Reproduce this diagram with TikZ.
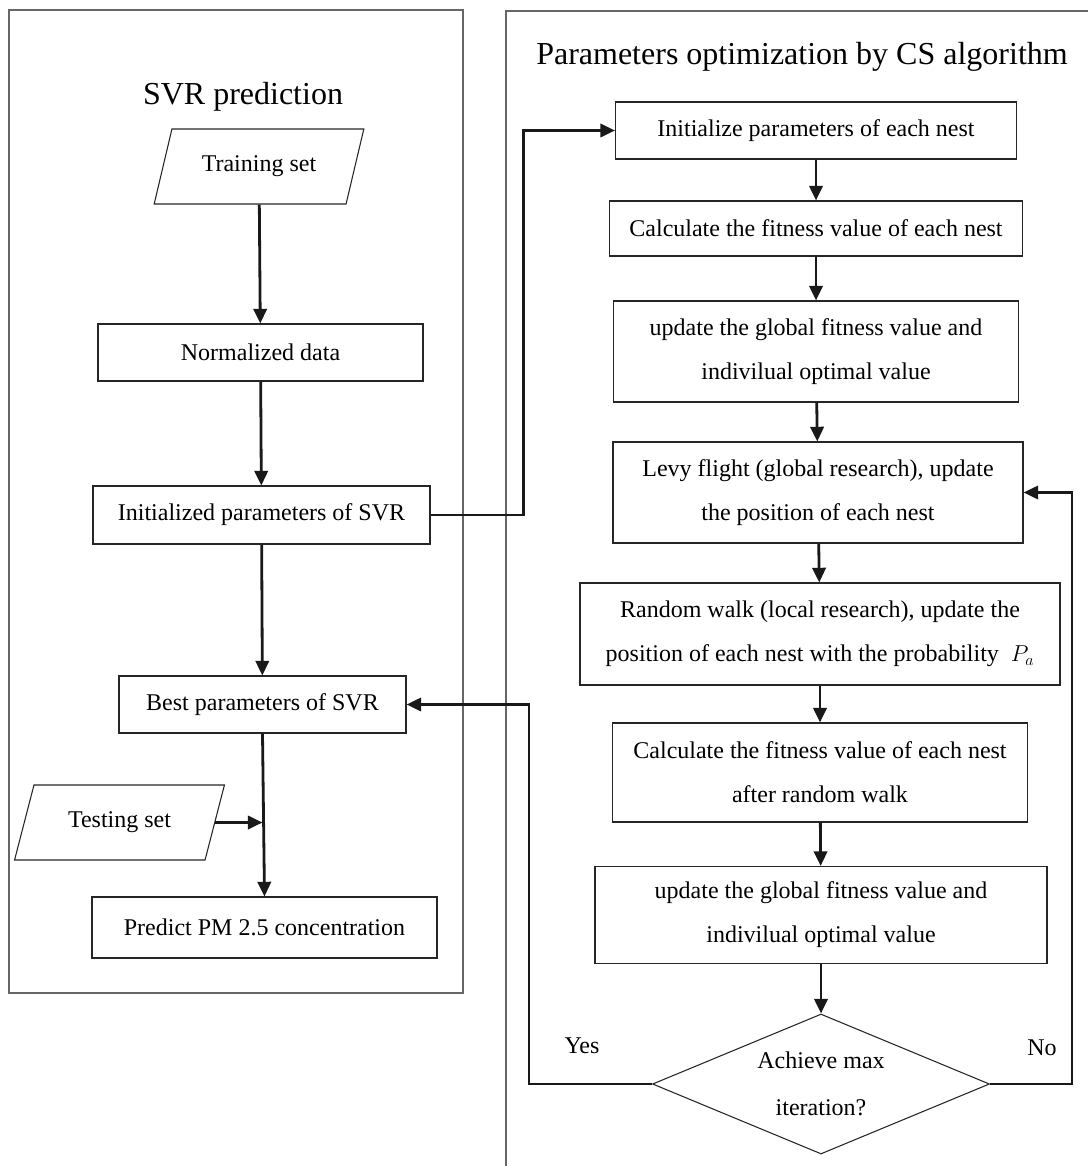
\documentclass[tikz,border=0pt]{standalone}
\usepackage{fontspec}
\setmainfont{Liberation Serif}
\usetikzlibrary{shapes.geometric,arrows.meta}

\begin{document}
\begin{tikzpicture}[x=0.75pt, y=-0.75pt,
    wh/.style 2 args={minimum width=#1*0.75pt, minimum height=#2*0.75pt},
    box/.style={draw=black!85, line width=0.8pt, rectangle, align=center, inner sep=0pt, font=\fontsize{18}{33}\selectfont},
    io/.style={draw=black!85, line width=0.8pt, trapezium, trapezium left angle=61, trapezium right angle=119, trapezium stretches=true, inner sep=0pt, font=\fontsize{18}{33}\selectfont},
    decision/.style={draw=black!85, line width=0.8pt, diamond, aspect=2.4, align=center, inner sep=0pt, font=\fontsize{18}{35}\selectfont},
    title/.style={font=\fontsize{24}{28}\selectfont},
    lbl/.style={font=\fontsize{18}{22}\selectfont},
    arr/.style={-{Triangle[length=11pt,width=10pt]}, line width=2.1pt, black!90},
    panel/.style={draw=black!60, line width=1pt}]
    \useasboundingbox (0,0) rectangle (1088,1166);

    % panels
    \draw[panel] (9,10) rectangle (463,993);
    \draw[panel] (1088,11) -- (506,11) -- (506,1166);
    \node[title] (svrtitle) at (243,97) {SVR prediction};
    \node[title] (cstitle) at (802,57) {Parameters optimization by CS algorithm};

    % SVR side
    \node[io, wh={210}{75}] (train) at (259,166.5) {Training set};
    \node[box, wh={325}{57}] (norm) at (260.5,352.5) {Normalized data};
    \node[box, wh={337}{58}] (init) at (261.5,515) {Initialized parameters of SVR};
    \node[box, wh={287}{57}] (best) at (262.5,704.5) {Best parameters of SVR};
    \node[io, wh={211}{75}] (test) at (119.5,822.5) {Testing set};
    \node[box, wh={345}{61}] (pred) at (264.5,927.5) {Predict PM 2.5 concentration};

    % CS side
    \node[box, wh={401}{57}] (initnest) at (816,130.5) {Initialize parameters of each nest};
    \node[box, wh={413}{55}] (fit) at (816,228.5) {Calculate the fitness value of each nest};
    \node[box, wh={405}{101}] (upd) at (816,351.5) {update the global fitness value and\\indivilual optimal value};
    \node[box, wh={410}{101}] (levy) at (818,492.5) {Levy flight (global research), update\\the position of each nest};
    \node[box, wh={480}{102}] (walk) at (820,634) {Random walk (local research), update the\\position of each nest with the probability~~$P_a$};
    \node[box, wh={415}{99}] (fit2) at (820,772.5) {Calculate the fitness value of each nest\\after random walk};
    \node[box, wh={452}{97}] (upd2) at (821,915) {update the global fitness value and\\indivilual optimal value};
    \node[decision, wh={337}{140}] (check) at (821,1084) {Achieve max\\iteration?};

    \node[lbl] (yes) at (582,1046) {Yes};
    \node[lbl] (no) at (1042,1048) {No};

    \draw[arr] (train) -- (norm);
    \draw[arr] (norm) -- (init);
    \draw[arr] (init) -- (best);
    \draw[arr] (best.south) -- (pred.north);
    \draw[arr] (test.east) -- (best.south |- test.east);
    \draw[arr] (init.east) -- ++(93,0) |- (initnest.west);

    \draw[arr] (initnest) -- (fit);
    \draw[arr] (fit) -- (upd);
    \draw[arr] (upd) -- (levy);
    \draw[arr] (levy) -- (walk);
    \draw[arr] (walk) -- (fit2);
    \draw[arr] (fit2) -- (upd2);
    \draw[arr] (upd2) -- (check);
    \draw[arr] (check.east) -- ++(82,0) |- (levy.east);
    \draw[arr] (check.west) -- ++(-123,0) |- (best.east);
\end{tikzpicture}
\end{document}
